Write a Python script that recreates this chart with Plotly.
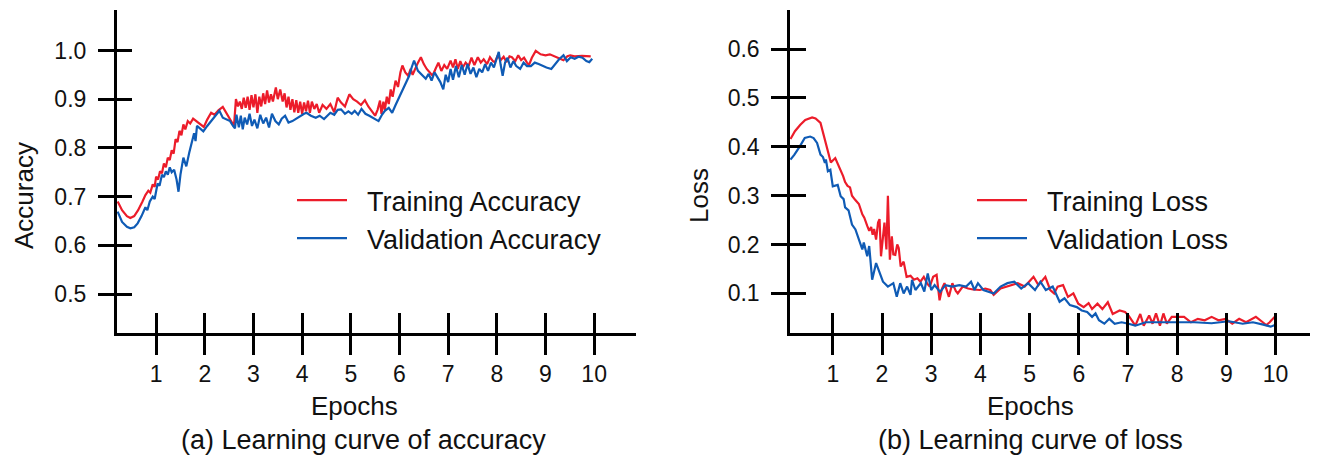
import plotly.graph_objects as go

# ---------------- data ----------------
acc_train_epoch = [0.21,0.30,0.40,0.47,0.55,0.63,0.72,0.78,0.84,0.88,0.93,0.97,1.00,1.04,1.08,1.12,1.16,1.20,1.24,1.28,
    1.32,1.36,1.40,1.44,1.48,1.52,1.56,1.60,1.65,1.70,1.76,1.82,1.90,1.98,2.05,2.13,2.20,2.28,2.37,2.45,
    2.52,2.60,2.64,2.68,2.72,2.76,2.80,2.84,2.88,2.92,2.96,3.00,3.04,3.08,3.12,3.16,3.20,3.24,3.28,3.32,
    3.36,3.40,3.46,3.50,3.55,3.60,3.64,3.68,3.72,3.76,3.80,3.84,3.88,3.92,3.96,4.00,4.04,4.08,4.12,4.16,
    4.20,4.25,4.30,4.35,4.42,4.50,4.58,4.66,4.73,4.80,4.88,4.97,5.05,5.13,5.21,5.29,5.36,5.43,5.50,5.55,
    5.60,5.63,5.67,5.70,5.74,5.78,5.82,5.86,5.92,5.97,6.02,6.06,6.12,6.18,6.23,6.27,6.33,6.38,6.44,6.50,
    6.56,6.62,6.68,6.74,6.80,6.86,6.92,6.98,7.05,7.10,7.15,7.20,7.25,7.30,7.36,7.42,7.48,7.54,7.61,7.67,
    7.73,7.80,7.86,7.92,7.96,8.02,8.08,8.14,8.20,8.26,8.31,8.38,8.44,8.50,8.56,8.62,8.66,8.72,8.80,8.90,
    9.00,9.09,9.20,9.30,9.37,9.45,9.51,9.60,9.75,9.93]
acc_train = [0.690,0.672,0.660,0.656,0.660,0.672,0.690,0.703,0.712,0.708,0.725,0.720,0.741,0.735,0.752,0.748,0.768,0.760,0.780,0.775,
    0.795,0.788,0.818,0.812,0.835,0.826,0.848,0.838,0.855,0.850,0.860,0.855,0.850,0.843,0.858,0.872,0.868,0.877,0.884,0.870,
    0.860,0.845,0.900,0.885,0.895,0.880,0.903,0.882,0.905,0.878,0.908,0.883,0.910,0.872,0.905,0.885,0.912,0.890,0.918,0.893,
    0.910,0.895,0.924,0.900,0.920,0.895,0.912,0.883,0.905,0.878,0.900,0.873,0.898,0.872,0.895,0.870,0.893,0.875,0.897,0.872,
    0.895,0.880,0.890,0.872,0.888,0.880,0.890,0.873,0.903,0.893,0.885,0.910,0.900,0.895,0.888,0.898,0.885,0.875,0.866,0.878,
    0.897,0.870,0.895,0.878,0.905,0.890,0.920,0.905,0.938,0.925,0.955,0.969,0.955,0.948,0.962,0.950,0.965,0.975,0.986,0.972,
    0.962,0.955,0.948,0.962,0.975,0.958,0.970,0.962,0.979,0.965,0.982,0.962,0.978,0.965,0.975,0.968,0.985,0.970,0.986,0.975,
    0.982,0.972,0.986,0.978,0.976,0.990,0.980,0.987,0.976,0.988,0.986,0.978,0.990,0.980,0.985,0.975,0.970,0.985,0.999,0.992,
    0.990,0.992,0.988,0.983,0.980,0.988,0.990,0.988,0.989,0.988]

acc_val_epoch = [0.21,0.30,0.40,0.47,0.55,0.62,0.70,0.78,0.82,0.87,0.93,0.97,1.03,1.07,1.12,1.16,1.20,1.24,1.28,1.32,
    1.37,1.42,1.46,1.50,1.56,1.62,1.68,1.74,1.78,1.81,1.84,1.90,1.97,2.05,2.13,2.22,2.30,2.37,2.45,2.52,
    2.58,2.62,2.65,2.70,2.74,2.78,2.82,2.87,2.92,2.97,3.02,3.08,3.14,3.20,3.26,3.32,3.38,3.45,3.52,3.58,
    3.65,3.72,3.80,3.88,3.96,4.04,4.09,4.18,4.28,4.36,4.45,4.52,4.58,4.66,4.73,4.80,4.88,4.95,5.02,5.08,
    5.15,5.22,5.30,5.38,5.47,5.57,5.64,5.70,5.78,5.85,5.92,5.99,6.06,6.13,6.20,6.25,6.30,6.38,6.48,6.54,
    6.60,6.66,6.72,6.78,6.84,6.90,6.95,7.00,7.05,7.10,7.16,7.22,7.28,7.34,7.40,7.46,7.52,7.58,7.64,7.70,
    7.76,7.82,7.88,7.94,7.98,8.04,8.08,8.12,8.17,8.22,8.28,8.34,8.40,8.48,8.55,8.62,8.70,8.78,8.86,8.94,
    9.02,9.12,9.20,9.28,9.37,9.44,9.52,9.60,9.68,9.76,9.84,9.90,9.96]
acc_val = [0.669,0.648,0.638,0.635,0.637,0.645,0.660,0.678,0.672,0.690,0.700,0.695,0.727,0.722,0.745,0.740,0.752,0.745,0.760,0.750,
    0.755,0.735,0.710,0.745,0.780,0.762,0.790,0.815,0.830,0.814,0.845,0.840,0.834,0.845,0.855,0.866,0.876,0.862,0.858,0.855,
    0.845,0.840,0.868,0.842,0.866,0.838,0.862,0.848,0.870,0.845,0.858,0.840,0.868,0.850,0.862,0.842,0.870,0.855,0.848,0.860,
    0.866,0.852,0.855,0.860,0.866,0.870,0.872,0.866,0.862,0.866,0.859,0.866,0.872,0.868,0.878,0.879,0.870,0.875,0.870,0.876,
    0.868,0.880,0.870,0.866,0.860,0.855,0.868,0.876,0.882,0.872,0.888,0.903,0.918,0.931,0.948,0.965,0.979,0.958,0.948,0.942,
    0.952,0.938,0.955,0.945,0.935,0.920,0.950,0.935,0.962,0.940,0.968,0.945,0.970,0.950,0.972,0.952,0.965,0.945,0.962,0.955,
    0.972,0.958,0.975,0.965,0.978,0.997,0.970,0.948,0.975,0.985,0.965,0.978,0.968,0.962,0.975,0.968,0.968,0.975,0.972,0.968,
    0.965,0.962,0.972,0.982,0.990,0.978,0.986,0.983,0.987,0.985,0.978,0.976,0.983]

loss_train_epoch = [0.14,0.23,0.34,0.44,0.58,0.65,0.75,0.82,0.89,0.96,1.05,1.14,1.21,1.25,1.30,1.35,1.39,1.45,1.53,1.60,
    1.64,1.70,1.74,1.78,1.81,1.84,1.88,1.92,1.95,1.98,2.05,2.09,2.12,2.16,2.20,2.23,2.27,2.31,2.34,2.38,
    2.44,2.50,2.58,2.65,2.72,2.78,2.85,2.92,2.97,3.04,3.11,3.17,3.22,3.27,3.33,3.36,3.43,3.50,3.54,3.64,
    3.75,3.85,3.99,4.10,4.20,4.27,4.41,4.55,4.66,4.76,4.90,5.00,5.08,5.18,5.32,5.42,5.50,5.57,5.68,5.78,
    5.89,5.99,6.10,6.20,6.27,6.38,6.48,6.59,6.69,6.83,6.94,7.01,7.15,7.25,7.32,7.43,7.50,7.57,7.65,7.72,
    7.79,7.89,8.14,8.28,8.42,8.56,8.70,8.84,8.98,9.12,9.26,9.40,9.60,9.74,9.81,9.88,9.98]
loss_train = [0.416,0.432,0.445,0.455,0.460,0.458,0.449,0.421,0.394,0.368,0.377,0.357,0.340,0.328,0.320,0.317,0.300,0.292,0.283,0.262,
    0.255,0.238,0.228,0.236,0.220,0.232,0.210,0.245,0.252,0.176,0.245,0.190,0.300,0.169,0.217,0.180,0.179,0.200,0.193,0.155,
    0.165,0.134,0.136,0.128,0.131,0.124,0.134,0.120,0.114,0.134,0.138,0.086,0.110,0.121,0.100,0.093,0.121,0.105,0.100,0.114,
    0.110,0.108,0.107,0.110,0.107,0.097,0.110,0.114,0.118,0.121,0.114,0.125,0.134,0.117,0.134,0.107,0.100,0.114,0.117,0.093,
    0.100,0.079,0.072,0.080,0.068,0.079,0.068,0.082,0.058,0.065,0.062,0.055,0.034,0.058,0.034,0.055,0.038,0.059,0.034,0.059,
    0.038,0.052,0.052,0.041,0.048,0.045,0.052,0.045,0.048,0.038,0.048,0.041,0.052,0.041,0.035,0.041,0.052]

loss_val_epoch = [0.14,0.22,0.33,0.43,0.54,0.61,0.68,0.75,0.80,0.84,0.86,0.90,0.95,1.00,1.10,1.16,1.22,1.25,1.32,1.39,
    1.46,1.53,1.60,1.63,1.70,1.74,1.80,1.88,1.95,2.02,2.12,2.23,2.30,2.37,2.44,2.51,2.58,2.61,2.68,2.79,
    2.86,2.93,3.00,3.07,3.18,3.29,3.43,3.57,3.71,3.81,3.88,3.95,4.06,4.27,4.41,4.55,4.69,4.83,4.97,5.11,
    5.22,5.33,5.47,5.54,5.61,5.71,5.82,5.96,6.06,6.17,6.27,6.34,6.41,6.52,6.62,6.73,6.87,7.01,7.15,7.36,
    7.64,8.00,8.35,8.70,9.05,9.33,9.54,9.75,9.90,10.00]
loss_val = [0.374,0.384,0.401,0.418,0.421,0.418,0.408,0.384,0.379,0.367,0.374,0.350,0.353,0.319,0.322,0.299,0.293,0.276,0.270,0.241,
    0.231,0.210,0.190,0.204,0.176,0.197,0.128,0.162,0.141,0.124,0.114,0.121,0.093,0.121,0.100,0.114,0.097,0.128,0.107,0.121,
    0.104,0.141,0.107,0.117,0.103,0.117,0.114,0.117,0.114,0.124,0.107,0.121,0.107,0.100,0.114,0.121,0.124,0.110,0.121,0.107,
    0.124,0.107,0.114,0.100,0.083,0.090,0.076,0.072,0.065,0.062,0.052,0.059,0.045,0.038,0.048,0.038,0.041,0.038,0.034,0.041,
    0.041,0.041,0.041,0.039,0.043,0.038,0.041,0.036,0.032,0.036]

epoch_ticks = [1, 2, 3, 4, 5, 6, 7, 8, 9, 10]
acc_ticks = [0.5, 0.6, 0.7, 0.8, 0.9, 1.0]
loss_ticks = [0.1, 0.2, 0.3, 0.4, 0.5, 0.6]

series_names = ["Training Accuracy", "Validation Accuracy", "Training Loss", "Validation Loss"]

RED = "#EC1C2A"
BLUE = "#0F5BB5"
FONT = "Arial, Liberation Sans, Helvetica, sans-serif"
GAP = "\u00a0\u00a0"  # a little extra room between legend line and its label

# the page body adds an 8px margin; size the figure so it fits the 1319x460 window
OFF = 8
W, H = 1319 - OFF, 460 - OFF


def px(x):
    return (x - OFF) / W


def py(y):
    return 1 - (y - OFF) / H


LX0, LX1 = px(116.7), px(636)
RX0, RX1 = px(790), px(1310)
Y0, Y1 = py(333), py(10)

fig = go.Figure()
fig.add_trace(go.Scatter(x=acc_train_epoch, y=acc_train, mode="lines", name=GAP + series_names[0],
                         line=dict(color=RED, width=2.2), xaxis="x", yaxis="y", legend="legend"))
fig.add_trace(go.Scatter(x=acc_val_epoch, y=acc_val, mode="lines", name=GAP + series_names[1],
                         line=dict(color=BLUE, width=2.2), xaxis="x", yaxis="y", legend="legend"))
fig.add_trace(go.Scatter(x=loss_train_epoch, y=loss_train, mode="lines", name=GAP + series_names[2],
                         line=dict(color=RED, width=2.2), xaxis="x2", yaxis="y2", legend="legend2"))
fig.add_trace(go.Scatter(x=loss_val_epoch, y=loss_val, mode="lines", name=GAP + series_names[3],
                         line=dict(color=BLUE, width=2.2), xaxis="x2", yaxis="y2", legend="legend2"))
# empty traces to activate the overlay axes carrying the inward tick halves
fig.add_trace(go.Scatter(x=[], y=[], xaxis="x3", yaxis="y3", showlegend=False, hoverinfo="skip"))
fig.add_trace(go.Scatter(x=[], y=[], xaxis="x4", yaxis="y4", showlegend=False, hoverinfo="skip"))

AX = dict(showline=True, linecolor="black", linewidth=2.5, showgrid=False, zeroline=False,
          tickcolor="black", tickwidth=2.5, tickfont=dict(family=FONT, size=23, color="#111"))
XR1 = [0.19, 10.86]
XR2 = [0.13, 10.70]
YR1 = [0.42, 1.083]
YR2 = [0.019, 0.68]

fig.update_layout(
    width=W, height=H, margin=dict(l=0, r=0, t=0, b=0),
    paper_bgcolor="white", plot_bgcolor="white",
    font=dict(family=FONT, color="#111"),
    xaxis=dict(AX, domain=[LX0, LX1], range=XR1, anchor="y", tickvals=epoch_ticks,
               ticks="outside", ticklen=19),
    yaxis=dict(AX, domain=[Y0, Y1], range=YR1, anchor="x", tickvals=acc_ticks,
               ticktext=[f"{v:.1f}" for v in acc_ticks], ticks="outside", ticklen=16,
               ticklabelstandoff=7),
    xaxis2=dict(AX, domain=[RX0, RX1], range=XR2, anchor="y2", tickvals=epoch_ticks,
                ticks="outside", ticklen=19),
    yaxis2=dict(AX, domain=[Y0, Y1], range=YR2, anchor="x2", tickvals=loss_ticks,
                ticktext=[f"{v:.1f}" for v in loss_ticks], ticks="outside", ticklen=16,
                ticklabelstandoff=7),
    xaxis3=dict(AX, overlaying="x", anchor="y3", range=XR1, tickvals=epoch_ticks,
                ticks="inside", ticklen=20, showticklabels=False),
    yaxis3=dict(AX, overlaying="y", anchor="x3", range=YR1, tickvals=acc_ticks,
                ticks="inside", ticklen=16, showticklabels=False),
    xaxis4=dict(AX, overlaying="x2", anchor="y4", range=XR2, tickvals=epoch_ticks,
                ticks="inside", ticklen=20, showticklabels=False),
    yaxis4=dict(AX, overlaying="y2", anchor="x4", range=YR2, tickvals=loss_ticks,
                ticks="inside", ticklen=16, showticklabels=False),
    legend=dict(x=px(292), y=py(176), xanchor="left", yanchor="top",
                font=dict(family=FONT, size=27, color="#111"), bgcolor="rgba(0,0,0,0)",
                itemwidth=50, tracegroupgap=0),
    legend2=dict(x=px(972), y=py(176), xanchor="left", yanchor="top",
                 font=dict(family=FONT, size=27, color="#111"), bgcolor="rgba(0,0,0,0)",
                 itemwidth=50, tracegroupgap=0),
    showlegend=True,
)

ann = [
    dict(text="Epochs", x=px(354), y=py(406), size=26),
    dict(text="(a) Learning curve of accuracy", x=px(363), y=py(440), size=27),
    dict(text="Epochs", x=px(1030), y=py(406), size=26),
    dict(text="(b) Learning curve of loss", x=px(1030), y=py(440), size=27),
    dict(text="Accuracy", x=px(24), y=py(196), size=26, textangle=-90),
    dict(text="Loss", x=px(699), y=py(196), size=26, textangle=-90),
]
for a in ann:
    size = a.pop("size")
    fig.add_annotation(xref="paper", yref="paper", showarrow=False,
                       font=dict(family=FONT, size=size, color="#111"),
                       xanchor="center", yanchor="middle", **a)

fig.write_html("out.html")
